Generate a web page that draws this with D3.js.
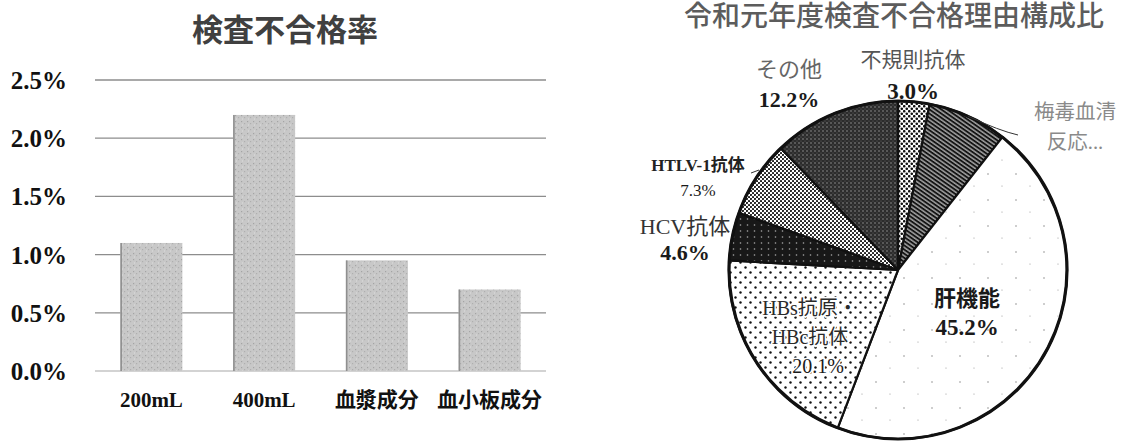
<!DOCTYPE html>
<html><head><meta charset="utf-8">
<script src="https://cdn.jsdelivr.net/npm/d3@7"></script>
<style>
html,body{margin:0;padding:0;background:#fff;}
svg{display:block;}
</style></head>
<body>
<svg id="chart" width="1127" height="443"></svg>
<script>
// ---------- data ----------
const barTitle = "検査不合格率";
const barCategories = ["200mL", "400mL", "血漿成分", "血小板成分"];
const barValues = [0.011, 0.022, 0.0095, 0.007];
const yTickValues = [0, 0.005, 0.01, 0.015, 0.02, 0.025];

const pieTitle = "令和元年度検査不合格理由構成比";
const pieNames = ["不規則抗体", "梅毒血清反応", "肝機能", "HBs抗原・HBc抗体", "HCV抗体", "HTLV-1抗体", "その他"];
const pieValues = [3.0, 7.6, 45.2, 20.1, 4.6, 7.3, 12.2];
const pieLabelLines = [
  ["不規則抗体"],
  ["梅毒血清", "反応..."],
  ["肝機能"],
  ["HBs抗原・", "HBc抗体"],
  ["HCV抗体"],
  ["HTLV-1抗体"],
  ["その他"]
];
const pieShowValue = [true, false, true, true, true, true, true];

// ---------- setup ----------
const svg = d3.select("#chart");
const SERIF = "'Liberation Serif','Noto Sans CJK JP',serif";
const CJK = "'Noto Sans CJK JP','Liberation Serif',sans-serif";
const defs = svg.append("defs");

// patterns
function pat(id, w, h, bg, draw, transform) {
  const p = defs.append("pattern").attr("id", id).attr("patternUnits", "userSpaceOnUse")
    .attr("width", w).attr("height", h);
  if (transform) p.attr("patternTransform", transform);
  p.append("rect").attr("width", w).attr("height", h).attr("fill", bg);
  draw(p);
}
pat("pBar", 6, 6, "#c8c8c8", p => {
  p.append("rect").attr("x", 1).attr("y", 1).attr("width", 1.2).attr("height", 1.2).attr("fill", "#a4a4a4");
  p.append("rect").attr("x", 4).attr("y", 3).attr("width", 1.2).attr("height", 1.2).attr("fill", "#afafaf");
  p.append("rect").attr("x", 2).attr("y", 4.5).attr("width", 1).attr("height", 1).attr("fill", "#dedede");
});
pat("pIrreg", 5, 5, "#fff", p => {
  p.append("circle").attr("cx", 1.25).attr("cy", 1.25).attr("r", 1.3).attr("fill", "#111");
  p.append("circle").attr("cx", 3.75).attr("cy", 3.75).attr("r", 1.3).attr("fill", "#111");
});
pat("pSyph", 3.4, 3.4, "#151515", p => {
  p.append("rect").attr("x", 0).attr("y", 1.3).attr("width", 3.4).attr("height", 0.9).attr("fill", "#fff");
}, "rotate(35)");
pat("pLiver", 28, 26, "#fff", p => {
  p.append("circle").attr("cx", 6).attr("cy", 8).attr("r", 0.7).attr("fill", "#777");
  p.append("circle").attr("cx", 20).attr("cy", 20).attr("r", 0.6).attr("fill", "#999");
});
pat("pHBs", 10, 10, "#fff", p => {
  p.append("circle").attr("cx", 2.5).attr("cy", 2.5).attr("r", 1.2).attr("fill", "#111");
  p.append("circle").attr("cx", 7.5).attr("cy", 7.5).attr("r", 1.2).attr("fill", "#111");
});
pat("pHCV", 7, 6, "#181818", p => {
  p.append("circle").attr("cx", 3.5).attr("cy", 3).attr("r", 0.8).attr("fill", "#aaa");
});
pat("pHTLV", 4, 4, "#fff", p => {
  p.append("circle").attr("cx", 1).attr("cy", 1).attr("r", 1.05).attr("fill", "#111");
  p.append("circle").attr("cx", 3).attr("cy", 3).attr("r", 1.05).attr("fill", "#111");
});
pat("pOther", 4, 4, "#2c2c2c", p => {
  p.append("circle").attr("cx", 1).attr("cy", 1).attr("r", 0.75).attr("fill", "#9a9a9a");
  p.append("circle").attr("cx", 3).attr("cy", 3).attr("r", 0.6).attr("fill", "#666");
});
const pieFills = ["url(#pIrreg)", "url(#pSyph)", "url(#pLiver)", "url(#pHBs)", "url(#pHCV)", "url(#pHTLV)", "url(#pOther)"];

// ---------- bar chart ----------
const bx0 = 95, bx1 = 546, by0 = 371, by1 = 80;
const x = d3.scaleBand().domain(barCategories).range([bx0, bx1]).paddingInner(0.45).paddingOuter(0.225);
const y = d3.scaleLinear().domain([0, 0.025]).range([by0, by1]);

svg.append("text").attr("x", 285).attr("y", 27).attr("text-anchor", "middle")
  .attr("dominant-baseline", "central").attr("font-family", CJK).attr("font-weight", 700)
  .attr("font-size", 31).attr("fill", "#404040").text(barTitle);

const grid = svg.append("g");
grid.selectAll("line").data(yTickValues).join("line")
  .attr("x1", bx0).attr("x2", bx1).attr("y1", d => y(d)).attr("y2", d => y(d))
  .attr("stroke", d => d === 0 ? "#c4c4c4" : "#8d8d8d").attr("stroke-width", 1.3);

const yAxis = svg.append("g").attr("transform", `translate(${bx0 - 28},0)`)
  .call(d3.axisLeft(y).tickValues(yTickValues).tickSize(0).tickPadding(0).tickFormat(d3.format(".1%")));
yAxis.select(".domain").remove();
yAxis.selectAll("text").attr("font-family", SERIF).attr("font-weight", 700).attr("font-size", 25)
  .attr("fill", "#111").attr("dy", "0.34em");

svg.append("g").selectAll("rect").data(barValues).join("rect")
  .attr("x", (d, i) => x(barCategories[i])).attr("width", x.bandwidth())
  .attr("y", d => y(d)).attr("height", d => y(0) - y(d))
  .attr("fill", "url(#pBar)");
svg.append("g").selectAll("line").data(barValues).join("line")
  .attr("x1", (d, i) => x(barCategories[i]) + 0.8).attr("x2", (d, i) => x(barCategories[i]) + 0.8)
  .attr("y1", d => y(d)).attr("y2", y(0)).attr("stroke", "#8f8f8f").attr("stroke-width", 1.6);

const xAxis = svg.append("g").attr("transform", `translate(0,${by0 + 29})`)
  .call(d3.axisBottom(x).tickSize(0).tickPadding(0));
xAxis.select(".domain").remove();
xAxis.selectAll("text").attr("font-family", SERIF).attr("font-weight", 700).attr("font-size", 21)
  .attr("fill", "#111").attr("dy", "0.34em");

// ---------- pie chart ----------
const cx = 898, cy = 270, R = 169;
svg.append("text").attr("x", 894).attr("y", 26).attr("text-anchor", "middle")
  .attr("font-family", SERIF).attr("font-weight", 500).attr("font-size", 28)
  .attr("fill", "#5c5c5c").text(pieTitle);

const pie = d3.pie().sort(null).value(d => d)(pieValues);
const arc = d3.arc().innerRadius(0).outerRadius(R);
const pg = svg.append("g").attr("transform", `translate(${cx},${cy})`);
pg.selectAll("path").data(pie).join("path")
  .attr("d", arc).attr("fill", (d, i) => pieFills[i])
  .attr("stroke", "#111").attr("stroke-width", 2.2).attr("stroke-linejoin", "round");
pg.append("circle").attr("r", R).attr("fill", "none").attr("stroke", "#111").attr("stroke-width", 3.2);

// label layout (placement of each slice label)
const labelLayout = [
  {x: 913, y: 60, dy: 31, nameSize: 21, nameColor: "#555", nameWeight: 400, valSize: 23},
  {x: 1075, y: 112, dy: 30, nameSize: 20.5, nameColor: "#8a8a8a", nameWeight: 400, valSize: 20},
  {x: 967, y: 298, dy: 29, nameSize: 22, nameColor: "#1a1a1a", nameWeight: 700, valSize: 23},
  {x: 810, y: 308, dy: 29, nameSize: 20, nameColor: "#2a2a2a", nameWeight: 400, valSize: 20, valWeight: 400},
  {x: 685, y: 226, dy: 26, nameSize: 22, nameColor: "#333", nameWeight: 400, valSize: 22},
  {x: 698, y: 165, dy: 25, nameSize: 17, nameColor: "#222", nameWeight: 700, valSize: 17, valWeight: 400},
  {x: 789, y: 69, dy: 30, nameSize: 22, nameColor: "#666", nameWeight: 400, valSize: 22}
];
const lg = svg.append("g");
pieNames.forEach((name, i) => {
  const L = labelLayout[i];
  const lines = pieLabelLines[i];
  lines.forEach((t, k) => {
    lg.append("text").attr("x", L.x).attr("y", L.y + k * L.dy).attr("text-anchor", "middle")
      .attr("dominant-baseline", "central").attr("font-family", SERIF)
      .attr("font-size", L.nameSize).attr("font-weight", L.nameWeight).attr("fill", L.nameColor)
      .attr("stroke", i === 3 ? "#fff" : "none").attr("stroke-width", i === 3 ? 3 : 0)
      .attr("paint-order", "stroke").text(t);
  });
  if (pieShowValue[i]) {
    lg.append("text").attr("x", L.x + (i === 3 ? 8 : 0)).attr("y", L.y + lines.length * L.dy)
      .attr("text-anchor", "middle").attr("dominant-baseline", "central")
      .attr("font-family", SERIF).attr("font-size", L.valSize)
      .attr("font-weight", L.valWeight || 700).attr("fill", "#1a1a1a")
      .attr("stroke", i === 3 ? "#fff" : "none").attr("stroke-width", i === 3 ? 3 : 0)
      .attr("paint-order", "stroke")
      .text(d3.format(".1f")(pieValues[i]) + "%");
  }
});
// leader lines
const a1 = (pie[1].startAngle + pie[1].endAngle) / 2;
svg.append("path").attr("d", `M${cx + R * Math.sin(a1)},${cy - R * Math.cos(a1)} Q1000,131 1018,135`)
  .attr("fill", "none").attr("stroke", "#333").attr("stroke-width", 1);
svg.append("path").attr("d", "M751,173 L759,170").attr("fill", "none").attr("stroke", "#333").attr("stroke-width", 1);
</script>
</body></html>
